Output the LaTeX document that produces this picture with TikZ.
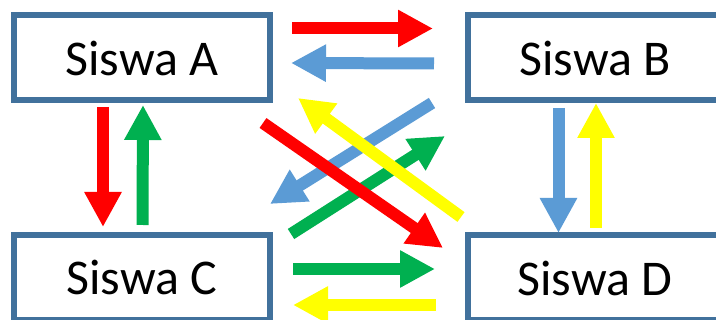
\documentclass[tikz,border=0pt]{standalone}
\usepackage{fontspec}
\setmainfont{Carlito}
\usetikzlibrary{arrows.meta}
\definecolor{garis}{HTML}{41719C}
\definecolor{merah}{HTML}{FF0000}
\definecolor{biru}{HTML}{5B9BD5}
\definecolor{hijau}{HTML}{00B050}
\definecolor{kuning}{HTML}{FFFF00}
\tikzset{
  siswa/.style={draw=garis,line width=6pt,fill=white,inner sep=0pt,
    minimum height=85pt,font=\fontsize{50}{60}\selectfont},
  panah/.style={line width=12pt,-{Triangle[length=35pt,width=35pt]}}
}
\begin{document}
\begin{tikzpicture}[x=1pt,y=-1pt]
 \clip (0,0) rectangle (716,320);
 \fill[white] (0,0) rectangle (716,320);
 % kotak siswa
 \node[siswa,minimum width=256pt] (A) at (142,58) {Siswa A};
 \node[siswa,minimum width=254pt] (B) at (595,58) {Siswa B};
 \node[siswa,minimum width=256pt] (C) at (142,277.5) {Siswa C};
 \node[siswa,minimum width=254pt] (D) at (595,278) {Siswa D};
 % ujung panah
 \coordinate (ab1) at (292,28.5);  \coordinate (ab2) at (433,28.5);
 \coordinate (ba1) at (434,63.5);  \coordinate (ba2) at (291,63);
 \coordinate (cd1) at (293,269);   \coordinate (cd2) at (435,269);
 \coordinate (dc1) at (436,305);   \coordinate (dc2) at (293,305);
 \coordinate (ac1) at (103,107);   \coordinate (ac2) at (103,227);
 \coordinate (ca1) at (142.5,225); \coordinate (ca2) at (143,105);
 \coordinate (bd1) at (558.5,108); \coordinate (bd2) at (558.5,233);
 \coordinate (db1) at (596,228);   \coordinate (db2) at (596,103);
 \coordinate (ad1) at (263,123);   \coordinate (ad2) at (443,248);
 \coordinate (bc1) at (432,103);   \coordinate (bc2) at (270,204);
 \coordinate (da1) at (461,217);   \coordinate (da2) at (298,98);
 \coordinate (cb1) at (291,234);   \coordinate (cb2) at (445,136);
 % panah
 \draw[panah,merah] (ab1) -- (ab2);
 \draw[panah,biru] (ba1) -- (ba2);
 \draw[panah,hijau] (cd1) -- (cd2);
 \draw[panah,kuning] (dc1) -- (dc2);
 \draw[panah,merah] (ac1) -- (ac2);
 \draw[panah,hijau] (ca1) -- (ca2);
 \draw[panah,biru] (bd1) -- (bd2);
 \draw[panah,kuning] (db1) -- (db2);
 \draw[panah,biru] (bc1) -- (bc2);
 \draw[panah,hijau] (cb1) -- (cb2);
 \draw[panah,merah] (ad1) -- (ad2);
 \draw[panah,kuning] (da1) -- (da2);
\end{tikzpicture}
\end{document}
